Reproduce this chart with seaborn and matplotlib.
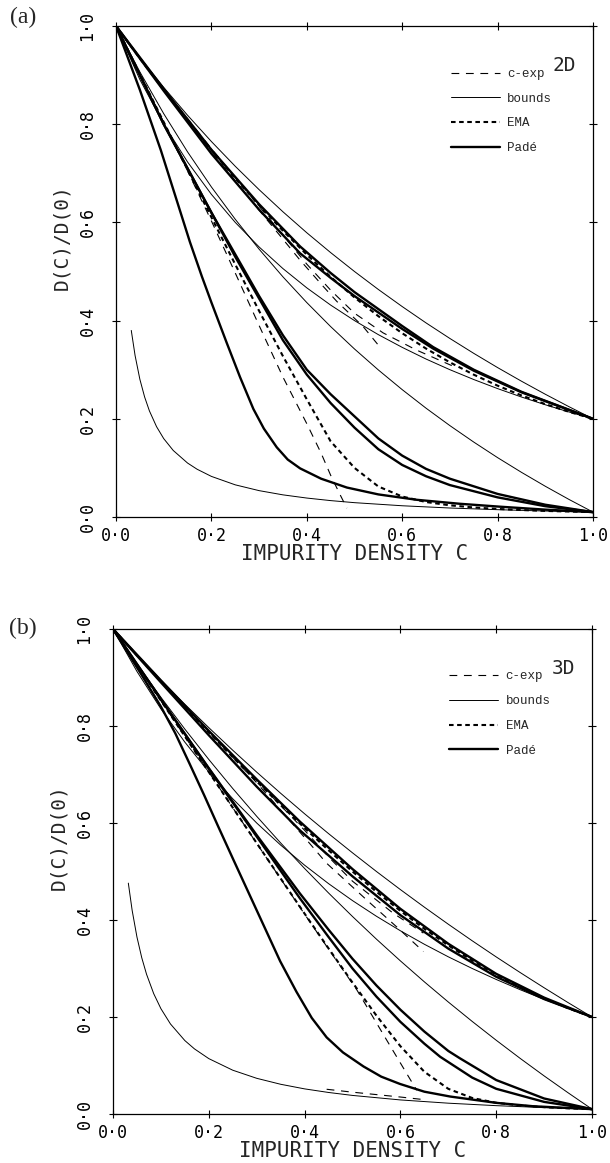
import matplotlib
matplotlib.use("Agg")
import matplotlib.pyplot as plt
from matplotlib.lines import Line2D
import seaborn as sns

# ---------------- data: panel (a) 2D ----------------
C_GRID = [0, .05, .1, .15, .2, .25, .3, .35, .4, .45, .5, .55, .6, .65, .7, .75, .8, .85, .9, .95, 1]

A2_UP = [1, .9355, .875, .8182, .7647, .7143, .6667, .6216, .5789, .5385, .5, .4634, .4286, .3953, .3636, .3333, .3043, .2766, .25, .2245, .2]
A2_LO = [1, .8909, .8, .7231, .6571, .6, .55, .5059, .4667, .4316, .4, .3714, .3455, .3217, .3, .28, .2615, .2444, .2286, .2138, .2]
A2_EMA = [1, .9341, .8699, .8076, .7475, .6899, .635, .583, .5343, .489, .4472, .409, .3743, .343, .315, .2899, .2675, .2476, .2299, .2141, .2]
A2_PADE_C = [0, .1, .2, .3, .386, .45, .5, .6, .665, .75, .85, 1]
A2_PADE1 = [1, .872, .748, .637, .551, .497, .458, .389, .346, .3, .255, .2]
A2_PADE2 = [1, .868, .74, .626, .537, .487, .45, .383, .343, .298, .254, .2]
A2_CEXP1_C = [0, .1, .2, .3, .386, .435, .463, .518, .55]
A2_CEXP1 = [1, .87, .745, .625, .523, .469, .439, .388, .35]
A2_CEXP2_C = [0, .1, .2, .3, .4, .45, .5, .56, .63, .707]
A2_CEXP2 = [1, .872, .75, .633, .515, .462, .415, .375, .34, .307]

B2_UP = [1, .9066, .8215, .7436, .6722, .6064, .5455, .4891, .4367, .3878, .3422, .2995, .2594, .2216, .1861, .1526, .1209, .091, .0626, .0356, .01]
B2_LO_C = [.032, .04, .05, .06, .07, .085, .1, .12, .15, .17, .2, .25, .3, .35, .4, .45, .5, .6, .7, .8, .9, 1]
B2_LO = [.38, .3289, .2806, .2444, .2162, .184, .1597, .1355, .1099, .0973, .0827, .0655, .0537, .0451, .0386, .0334, .0292, .0229, .0183, .0149, .0122, .01]
B2_EMA = [1, .9021, .8044, .7071, .6104, .5144, .4198, .3275, .2397, .1541, .1, .0621, .0417, .0305, .0238, .0194, .0164, .0142, .0124, .0111, .01]
B2_PADE_C = [0, .05, .1, .15, .2, .25, .3, .35, .4, .45, .5, .55, .6, .65, .7, .8, .9, 1]
B2_PADE1 = [1, .90, .80, .71, .62, .53, .445, .36, .29, .232, .182, .138, .106, .083, .065, .04, .022, .01]
B2_PADE2 = [1, .90, .80, .71, .62, .535, .45, .37, .30, .25, .205, .16, .125, .098, .078, .047, .025, .01]
B2_CEXP_C = [0, .05, .1, .15, .2, .25, .3, .35, .4, .43, .45, .47, .484]
B2_CEXP = [1, .902, .804, .705, .603, .497, .39, .285, .19, .13, .085, .045, .018]

C2_C = [0, .05, .094, .125, .155, .18, .2, .232, .26, .288, .31, .337, .36, .386, .43, .484, .55, .631, .72, .805, .9, 1]
C2_V = [1, .87, .747, .652, .56, .49, .437, .355, .285, .22, .18, .142, .117, .099, .078, .06, .046, .035, .027, .021, .015, .01]

# ---------------- data: panel (b) 3D ----------------
A3_UP = [1, .9464, .8947, .8448, .7966, .75, .7049, .6613, .619, .5781, .5385, .5, .4627, .4265, .3913, .3571, .3239, .2917, .2603, .2297, .2]
A3_LO = [1, .9125, .8353, .7667, .7053, .65, .6, .5545, .513, .475, .44, .4077, .3778, .35, .3241, .3, .2774, .2563, .2364, .2176, .2]
A3_EMA = [1, .9458, .8921, .8392, .7871, .7359, .6858, .637, .5896, .5439, .5, .4582, .4188, .3819, .3477, .3162, .2877, .2619, .2388, .2182, .2]
A3_PADE_C = [0, .1, .2, .3, .39, .5, .6, .7, .8, .9, 1]
A3_PADE1 = [1, .894, .79, .69, .603, .505, .423, .351, .289, .24, .2]
A3_PADE2 = [1, .89, .781, .675, .585, .49, .41, .341, .283, .237, .2]
A3_CEXP1_C = [0, .1, .2, .3, .4, .446, .53, .592, .648]
A3_CEXP1 = [1, .893, .788, .683, .57, .517, .441, .386, .335]
A3_CEXP2_C = [0, .1, .2, .3, .4, .453, .5, .585, .648]
A3_CEXP2 = [1, .894, .79, .687, .585, .527, .48, .414, .373]

B3_UP = [1, .9279, .8592, .7936, .731, .6711, .6138, .5589, .5062, .4557, .4072, .3605, .3157, .2725, .2309, .1908, .1521, .1147, .0786, .0438, .01]
B3_LO_C = [.032, .04, .05, .06, .07, .085, .1, .12, .15, .17, .2, .25, .3, .35, .4, .45, .5, .6, .7, .8, .9, 1]
B3_LO = [.476, .4197, .3649, .3223, .2882, .2481, .2172, .1856, .1514, .1343, .1142, .0903, .0736, .0613, .0518, .0444, .0383, .029, .0223, .0172, .0132, .01]
B3_EMA = [1, .9262, .8524, .7787, .7051, .6317, .5585, .4856, .4131, .3414, .271, .2029, .1398, .0871, .0519, .033, .0231, .0176, .0141, .0117, .01]
B3_PADE1_C = [0, .1, .2, .3, .39, .45, .5, .55, .6, .65, .683, .75, .8, .9, 1]
B3_PADE1 = [1, .855, .712, .572, .445, .365, .30, .242, .19, .145, .118, .075, .052, .025, .01]
B3_PADE2_C = [0, .1, .2, .3, .39, .45, .5, .55, .6, .65, .7, .724, .8, .9, 1]
B3_PADE2 = [1, .855, .713, .575, .455, .38, .32, .265, .215, .17, .13, .115, .07, .032, .01]
B3_CEXP_C = [0, .1, .2, .3, .4, .45, .509, .571, .634]
B3_CEXP = [1, .852, .705, .558, .412, .34, .256, .153, .049]
B3_CEXPLOW_C = [.446, .5, .55, .6, .655]
B3_CEXPLOW = [.051, .045, .04, .035, .029]

C3_C = [0, .06, .1, .13, .16, .19, .22, .251, .3, .349, .383, .415, .446, .48, .523, .56, .599, .65, .704, .8, .877, 1]
C3_V = [1, .905, .84, .785, .722, .658, .592, .525, .42, .315, .252, .198, .158, .127, .098, .077, .062, .046, .036, .023, .016, .01]

TICKS = [0, .2, .4, .6, .8, 1.0]
TICK_LABELS = ["0·0", "0·2", "0·4", "0·6", "0·8", "1·0"]
LEGEND_LABELS = ["c-exp", "bounds", "EMA", "Padé"]

# ---------------- styles ----------------
THIN = dict(linewidth=0.7, linestyle="-")
THICK = dict(linewidth=1.7, linestyle="-")
CEXP = dict(linewidth=0.8, linestyle=(0, (7, 6)))
EMA = dict(linewidth=1.5, linestyle=(0, (2.2, 1.7)))

sns.set_theme(style="white")
plt.rcParams['font.family'] = ['DejaVu Sans Mono', 'DejaVu Sans']

fig = plt.figure(figsize=(6.1, 11.63), dpi=100)
W, H = 610, 1163
ax_a = fig.add_axes([116 / W, 1 - 517 / H, 477 / W, 491 / H])
ax_b = fig.add_axes([113 / W, 1 - 1114 / H, 479 / W, 485 / H])


def curve(ax, x, y, style):
    sns.lineplot(x=x, y=y, ax=ax, color="black", sort=False, estimator=None,
                 legend=False, **style)


panels = {
    ax_a: dict(
        thin=[(C_GRID, A2_UP), (C_GRID, A2_LO), (C_GRID, B2_UP), (B2_LO_C, B2_LO)],
        cexp=[(A2_CEXP1_C, A2_CEXP1), (A2_CEXP2_C, A2_CEXP2), (B2_CEXP_C, B2_CEXP)],
        ema=[(C_GRID, A2_EMA), (C_GRID, B2_EMA)],
        pade=[(A2_PADE_C, A2_PADE1), (A2_PADE_C, A2_PADE2), (B2_PADE_C, B2_PADE1),
              (B2_PADE_C, B2_PADE2), (C2_C, C2_V)],
        tag="2D"),
    ax_b: dict(
        thin=[(C_GRID, A3_UP), (C_GRID, A3_LO), (C_GRID, B3_UP), (B3_LO_C, B3_LO)],
        cexp=[(A3_CEXP1_C, A3_CEXP1), (A3_CEXP2_C, A3_CEXP2), (B3_CEXP_C, B3_CEXP),
              (B3_CEXPLOW_C, B3_CEXPLOW)],
        ema=[(C_GRID, A3_EMA), (C_GRID, B3_EMA)],
        pade=[(A3_PADE_C, A3_PADE1), (A3_PADE_C, A3_PADE2), (B3_PADE1_C, B3_PADE1),
              (B3_PADE2_C, B3_PADE2), (C3_C, C3_V)],
        tag="3D"),
}

for ax, p in panels.items():
    for x, y in p["thin"]:
        curve(ax, x, y, THIN)
    for x, y in p["cexp"]:
        curve(ax, x, y, CEXP)
    for x, y in p["ema"]:
        curve(ax, x, y, EMA)
    for x, y in p["pade"]:
        curve(ax, x, y, THICK)

    ax.set_xlim(0, 1)
    ax.set_ylim(0, 1)
    ax.set_xticks(TICKS)
    ax.set_yticks(TICKS)
    ax.set_xticklabels(TICK_LABELS, fontsize=12)
    ax.set_yticklabels(TICK_LABELS, fontsize=12, rotation=90, va="center")
    ax.tick_params(axis="both", direction="inout", length=6, width=0.8,
                   top=True, right=True, bottom=True, left=True, colors="black")
    ax.tick_params(axis="x", pad=4)
    ax.tick_params(axis="y", pad=11)
    for s in ax.spines.values():
        s.set_color("black")
        s.set_linewidth(0.9)
        s.set_visible(True)
    ax.set_facecolor("white")
    ax.grid(False)

    ax.set_xlabel("IMPURITY DENSITY C", fontsize=15)
    ax.xaxis.set_label_coords(0.5, -0.056)
    ax.set_ylabel("D(C)/D(0)", fontsize=14)
    ax.yaxis.set_label_coords(-0.094, 0.57)

    ax.text(0.965, 1 - 40 / 491, p["tag"], transform=ax.transAxes,
            ha="right", va="center", fontsize=14)

    handles = [Line2D([], [], color="black", **CEXP),
               Line2D([], [], color="black", **THIN),
               Line2D([], [], color="black", **EMA),
               Line2D([], [], color="black", **THICK)]
    ax.legend(handles, LEGEND_LABELS, loc="upper left",
              bbox_to_anchor=(0.702, 1 - 42 / 491), frameon=False,
              prop=dict(family="Liberation Mono", size=9),
              handlelength=3.9, handletextpad=0.6, labelspacing=1.02,
              borderpad=0, borderaxespad=0)

fig.text(23 / W, 1 - 17 / H, "(a)", family="Liberation Serif", fontsize=17,
         ha="center", va="center")
fig.text(23 / W, 1 - 628 / H, "(b)", family="Liberation Serif", fontsize=17,
         ha="center", va="center")

fig.savefig("out.png", dpi=100, facecolor="white")
